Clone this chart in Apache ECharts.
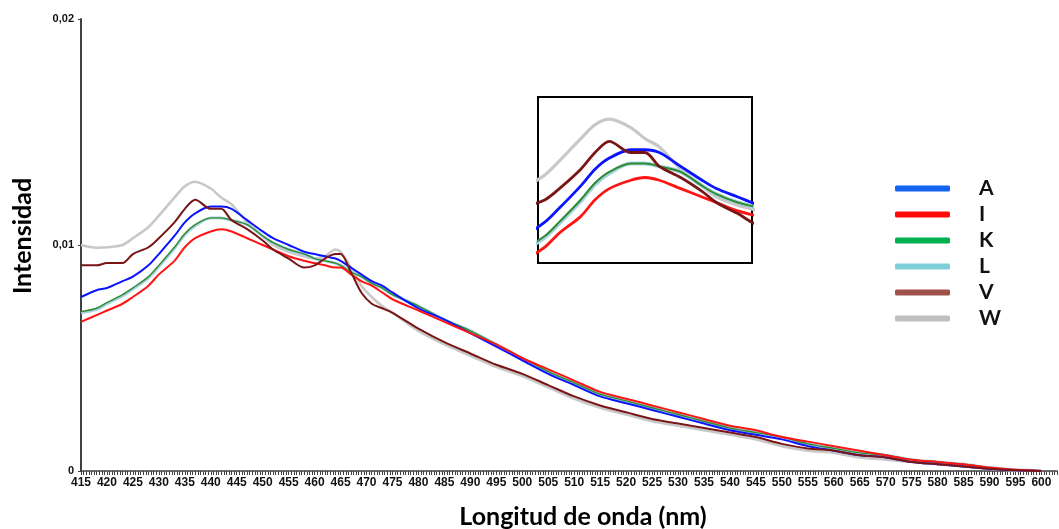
<!DOCTYPE html>
<html><head><meta charset="utf-8">
<script src="https://cdn.jsdelivr.net/npm/echarts@6/dist/echarts.min.js"></script>
<style>html,body{margin:0;padding:0;background:#fff}#c{width:1059px;height:529px}</style>
</head><body><div id="c"></div>
<script>
// Wavelength (nm)
const wavelengths = [415,418,420,423,425,428,430,433,435,437,440,442,444,447,450,452,455,458,460,462,464,465,467,469,471,473,475,
  480,485,490,495,500,505,510,515,520,525,530,535,540,545,550,555,560,565,570,575,580,585,590,595,600];

const seriesA = [0.0077,0.0080,0.0081,0.0084,0.0086,0.0091,0.0096,0.0104,0.0110,0.0114,0.0117,0.0117,0.0116,0.0111,0.0106,0.0103,0.0100,0.0097,0.0096,0.0095,0.0094,0.0093,0.0090,0.0087,0.0084,0.0082,0.0079,
  0.0072,0.0067,0.0061,0.0055,0.0049,0.0043,0.0038,0.0033,0.0030,0.0027,0.0024,0.0021,0.0018,0.0016,0.0014,0.0011,0.0009,0.0007,0.0006,0.0004,0.0003,0.0002,0.0001,0.00003,0];

const seriesI = [0.0066,0.0069,0.0071,0.0074,0.0077,0.0082,0.0087,0.0093,0.0099,0.0103,0.0106,0.0107,0.0106,0.0103,0.0100,0.0098,0.0095,0.0093,0.0092,0.0091,0.0090,0.0090,0.0087,0.0084,0.0082,0.0079,0.0076,
  0.0071,0.0066,0.0061,0.0056,0.0050,0.0045,0.0040,0.0035,0.0032,0.0029,0.0026,0.0023,0.0020,0.0018,0.0015,0.0013,0.0011,0.0009,0.0007,0.0005,0.0004,0.0003,0.00015,0.00005,0];

const seriesK = [0.00705,0.0072,0.00745,0.0078,0.0081,0.0086,0.0091,0.0099,0.0105,0.0109,0.0112,0.0112,0.0111,0.0109,0.0104,0.0101,0.0098,0.0096,0.0094,0.0093,0.0092,0.0091,0.0088,0.0086,0.0083,0.0081,0.0078,
  0.0073,0.0067,0.0062,0.0056,0.0050,0.0044,0.0039,0.0034,0.0031,0.0028,0.0025,0.0022,0.0019,0.0017,0.0015,0.0012,0.0010,0.0008,0.0007,0.0005,0.0004,0.0003,0.00015,0.00005,0];

const seriesL = [0.0070,0.00715,0.0074,0.00775,0.00805,0.00855,0.00905,0.00985,0.01045,0.01085,0.0112,0.0112,0.0111,0.0109,0.0104,0.0101,0.0098,0.0096,0.0094,0.0093,0.0092,0.0091,0.0089,0.0086,0.0083,0.0081,0.0078,
  0.0073,0.0067,0.0062,0.0056,0.0050,0.0044,0.0039,0.0034,0.0031,0.0028,0.0025,0.0022,0.0019,0.0017,0.0015,0.0012,0.0010,0.0008,0.0007,0.0005,0.0004,0.0003,0.00015,0.00005,0];

const seriesV = [0.0091,0.0091,0.0092,0.0092,0.0096,0.0099,0.0103,0.0110,0.0116,0.0120,0.0116,0.0116,0.0111,0.0107,0.0102,0.0098,0.0094,0.0090,0.0091,0.0094,0.0096,0.0096,0.0088,0.0079,0.0074,0.0072,0.0070,
  0.0063,0.0057,0.0052,0.0047,0.0043,0.0038,0.0033,0.0029,0.0026,0.0023,0.0021,0.0019,0.0017,0.0015,0.0012,0.0010,0.0009,0.0007,0.0006,0.0004,0.0003,0.0002,0.0001,0.00003,0];

const seriesW = [0.0100,0.00988,0.0099,0.0100,0.0103,0.0108,0.0113,0.0121,0.0126,0.0128,0.0125,0.0121,0.0118,0.0110,0.0104,0.0100,0.0097,0.0095,0.0094,0.0095,0.0098,0.0097,0.0090,0.0082,0.0077,0.0073,0.0070,
  0.0062,0.0056,0.0051,0.0046,0.0042,0.0037,0.0032,0.0028,0.0025,0.0022,0.0020,0.0018,0.0016,0.0014,0.0011,0.0009,0.0008,0.0006,0.0005,0.0004,0.0003,0.0002,0.0001,0.00002,0];

const legendNames = ['A','I','K','L','V','W'];
const legendColors = ['#1464f0','#ff0a0a','#00b050','#7ecdd8','#a0524a','#c0c0c0'];

// draw order (bottom to top)
const drawOrder = [
  {name:'W', data:seriesW, color:'#c8c8c8', w:2.6, wi:3.2},
  {name:'L', data:seriesL, color:'#a8d2e4', w:3, wi:4},
  {name:'K', data:seriesK, color:'#2e8b2e', w:1.4, wi:2},
  {name:'A', data:seriesA, color:'#0a14ff', w:2, wi:2.8},
  {name:'I', data:seriesI, color:'#ff1414', w:2, wi:2.8},
  {name:'V', data:seriesV, color:'#7a1515', w:2, wi:2.8}
];

function pairs(arr){ return wavelengths.map((x,i)=>[x,arr[i]]); }

const series = [];
drawOrder.forEach(s=>{
  series.push({type:'line', name:s.name, data:pairs(s.data), xAxisIndex:0, yAxisIndex:0,
    showSymbol:false, smooth:0.3, lineStyle:{color:s.color, width:s.w}, itemStyle:{color:s.color}, animation:false});
});
drawOrder.forEach(s=>{
  series.push({type:'line', name:s.name, data:pairs(s.data), xAxisIndex:1, yAxisIndex:1, clip:true,
    showSymbol:false, smooth:0.3, lineStyle:{color:s.color, width:s.wi}, itemStyle:{color:s.color}, animation:false});
});

const chart = echarts.init(document.getElementById('c'));
chart.setOption({
  backgroundColor:'#fff',
  animation:false,
  grid:[
    {left:81, right:2, top:19, bottom:58, outerBoundsMode:'none', containLabel:false},
    {left:538, top:97, width:214, height:166, show:true, borderColor:'#000', borderWidth:2, outerBoundsMode:'none', containLabel:false}
  ],
  legend:{
    orient:'vertical', left:890, top:173, itemWidth:55, itemHeight:6, itemGap:5, icon:'roundRect',
    textStyle:{fontFamily:'Lato', fontWeight:'bold', fontSize:21, color:'#111', lineHeight:21, padding:[0,0,0,24]},
    data: legendNames.map((n,i)=>({name:n, itemStyle:{color:legendColors[i]}}))
  },
  xAxis:[
    {type:'value', gridIndex:0, min:415, max:603, interval:5,
     name:'Longitud de onda (nm)', nameLocation:'middle', nameGap:33,
     nameTextStyle:{fontFamily:'Lato', fontWeight:'bold', fontSize:25, color:'#000', padding:[0,0,0,28]},
     axisLine:{lineStyle:{color:'#404040', width:1.5}},
     axisTick:{show:true, length:4, lineStyle:{color:'#404040'}},
     minorTick:{show:true, splitNumber:10, length:4, lineStyle:{color:'#404040'}},
     splitLine:{show:false},
     axisLabel:{fontFamily:'Liberation Sans', fontWeight:'bold', fontSize:12, color:'#111', margin:6, showMaxLabel:false}
    },
    {type:'value', gridIndex:1, min:427, max:457, show:false}
  ],
  yAxis:[
    {type:'value', gridIndex:0, min:0, max:0.02, interval:0.01,
     name:'Intensidad', nameLocation:'middle', nameGap:46, nameRotate:90,
     nameTextStyle:{fontFamily:'Lato', fontWeight:'bold', fontSize:25, color:'#000', padding:[0,0,0,18]},
     axisLine:{show:true, lineStyle:{color:'#404040', width:2}},
     axisTick:{show:true, length:3, lineStyle:{color:'#404040'}},
     splitLine:{show:false},
     axisLabel:{fontFamily:'Liberation Sans', fontWeight:'bold', fontSize:11, color:'#111', margin:7,
       formatter:v=> v===0 ? '0' : String(+v.toFixed(3)).replace('.',',')}
    },
    {type:'value', gridIndex:1, min:0.00762, max:0.0136, show:false}
  ],
  series: series
});
</script>
</body></html>
